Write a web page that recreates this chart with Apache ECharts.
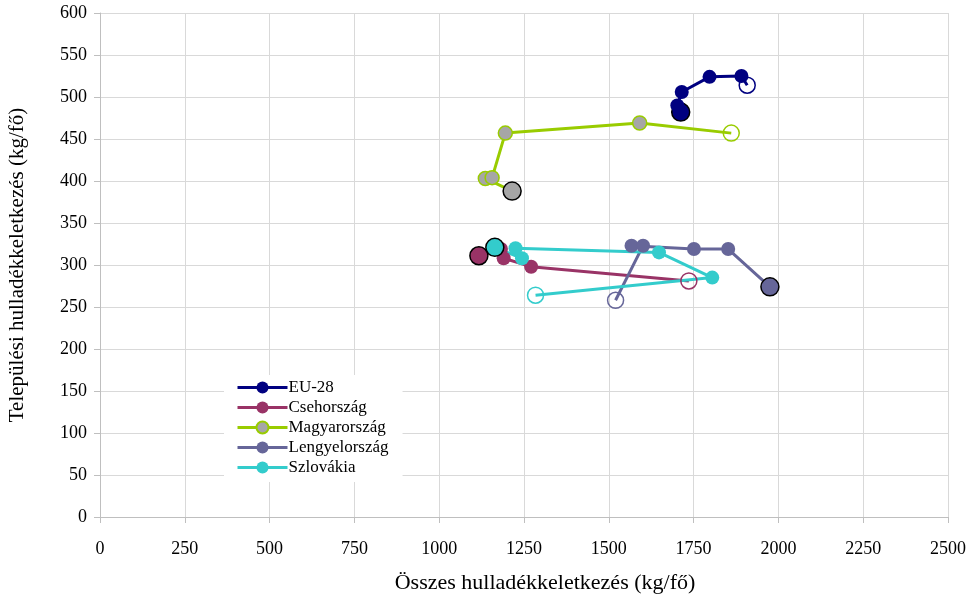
<!DOCTYPE html>
<html>
<head>
<meta charset="utf-8">
<script src="https://cdn.jsdelivr.net/npm/echarts@6/dist/echarts.min.js"></script>
<style>html,body{margin:0;padding:0;background:#fff}#c{width:972px;height:598px}</style>
</head>
<body>
<div id="c"></div>
<script>
var seriesNames = ['EU-28', 'Csehország', 'Magyarország', 'Lengyelország', 'Szlovákia'];
var eu28X = [1712, 1702, 1715, 1797, 1891, 1908];
var eu28Y = [482, 490, 506, 524, 525, 514];
var czX = [1117, 1182, 1190, 1271, 1736];
var czY = [311, 319, 308, 298, 281];
var huX = [1215, 1136, 1156, 1195, 1591, 1861];
var huY = [388, 403, 404, 457, 469, 457];
var plX = [1975, 1852, 1751, 1567, 1601, 1520];
var plY = [274, 319, 319, 323, 323, 258];
var skX = [1164, 1244, 1225, 1648, 1805, 1284];
var skY = [321, 308, 320, 315, 285, 264];
var xTicks = [0, 250, 500, 750, 1000, 1250, 1500, 1750, 2000, 2250, 2500];
var yTicks = [0, 50, 100, 150, 200, 250, 300, 350, 400, 450, 500, 550, 600];

var lineColors = ['#000080', '#993366', '#99CC00', '#666699', '#33CCCC'];
var fillColors = ['#000080', '#993366', '#A6A6A6', '#666699', '#33CCCC'];
var xs = [eu28X, czX, huX, plX, skX];
var ys = [eu28Y, czY, huY, plY, skY];
var font = "'Liberation Serif', 'Times New Roman', serif";

var series = seriesNames.map(function (name, i) {
  var n = xs[i].length;
  var data = xs[i].map(function (x, k) {
    var item = { value: [x, ys[i][k]] };
    if (k === 0) {
      item.symbolSize = 18;
      item.itemStyle = { color: fillColors[i], borderColor: '#000', borderWidth: 1.5 };
    } else if (k === n - 1) {
      item.symbolSize = 16;
      item.itemStyle = { color: 'rgba(255,255,255,0)', borderColor: lineColors[i], borderWidth: 1.5 };
    }
    return item;
  });
  return {
    name: name,
    type: 'line',
    data: data,
    symbol: 'circle',
    symbolSize: 14,
    showAllSymbol: true,
    lineStyle: { color: lineColors[i], width: 3 },
    itemStyle: { color: fillColors[i], borderColor: lineColors[i], borderWidth: i === 2 ? 1.5 : 0 },
    emphasis: { disabled: true },
    animation: false
  };
});

var chart = echarts.init(document.getElementById('c'), null, { renderer: 'canvas' });
chart.setOption({
  backgroundColor: '#fff',
  animation: false,
  grid: { left: 100, right: 24, top: 13, bottom: 81, containLabel: false, outerBoundsMode: 'none' },
  legend: {
    orient: 'vertical',
    left: 224,
    top: 375,
    itemWidth: 50,
    itemHeight: 15,
    itemGap: 3,
    padding: [4, 14, 6, 12],
    backgroundColor: '#fff',
    lineStyle: { width: 3 },
    textStyle: { fontFamily: font, fontSize: 17, color: '#000', padding: [0, 0, 0, -4] },
    data: seriesNames
  },
  xAxis: {
    type: 'value',
    min: xTicks[0],
    max: xTicks[xTicks.length - 1],
    interval: 250,
    name: 'Összes hulladékkeletkezés (kg/fő)',
    nameLocation: 'middle',
    nameGap: 55,
    nameTextStyle: { fontFamily: font, fontSize: 22, color: '#000', padding: [0, 0, 0, 42] },
    axisLine: { show: true, lineStyle: { color: '#BFBFBF' } },
    axisTick: { show: true, length: 6, lineStyle: { color: '#BFBFBF' } },
    axisLabel: { fontFamily: font, fontSize: 18, color: '#000', margin: 23, formatter: function (v) { return String(v); } },
    splitLine: { show: true, lineStyle: { color: '#D9D9D9' } }
  },
  yAxis: {
    type: 'value',
    min: yTicks[0],
    max: yTicks[yTicks.length - 1],
    interval: 50,
    name: 'Települési hulladékkeletkezés (kg/fő)',
    nameLocation: 'middle',
    nameGap: 72,
    nameTextStyle: { fontFamily: font, fontSize: 21, color: '#000' },
    axisLine: { show: true, lineStyle: { color: '#BFBFBF' } },
    axisTick: { show: true, length: 6, lineStyle: { color: '#BFBFBF' } },
    axisLabel: { fontFamily: font, fontSize: 18, color: '#000', margin: 13, formatter: function (v) { return String(v); } },
    splitLine: { show: true, lineStyle: { color: '#D9D9D9' } }
  },
  series: series
});
</script>
</body>
</html>
